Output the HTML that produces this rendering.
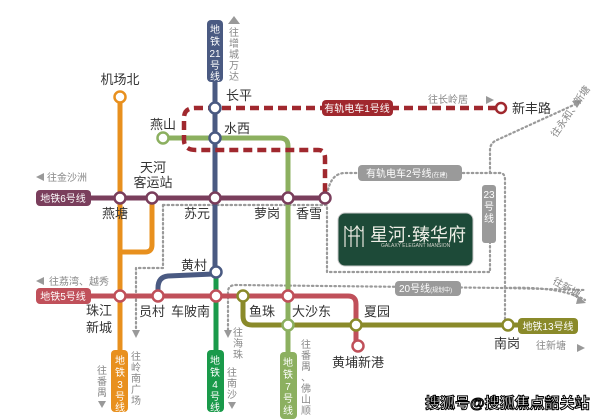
<!DOCTYPE html>
<html><head><meta charset="utf-8"><style>
html,body{margin:0;padding:0;background:#fff;}
svg{display:block;font-family:"Liberation Sans","Noto Sans CJK SC",sans-serif;}
.st{font-size:13px;fill:#333;}
.g{font-size:10px;fill:#888;}
.lb{font-size:10px;fill:#fff;}
</style></head><body>
<svg width="608" height="419" viewBox="0 0 608 419" xmlns="http://www.w3.org/2000/svg">
<rect width="608" height="419" fill="#fff"/>
<g fill="none" stroke="#9a9a9a" stroke-width="2.2" stroke-dasharray="1.5 3" stroke-linecap="round">
<path d="M328 190 Q332 173 345 173 L500 173 Q505 173 505 180 L505 325"/>
<path d="M490 173 L490 150 Q490 143 497 140 L578 103"/>
<path d="M163 205 L327 205 L327 272 L490 272 L490 185"/>
<path d="M163 205 L163 268 L136 268 L136 330"/>
<path d="M228 330 L228 292 Q228 285 236 285 L505 288 L585 290"/>
<path d="M505 288 Q560 286 585 300"/>
</g>
<polygon points="582,100 572,101 577,108" fill="#999"/>
<polygon points="586,303 578,296 576,304" fill="#999"/>
<polygon points="132,330 140,330 136,338" fill="#999"/>
<polygon points="224,330 232,330 228,338" fill="#999"/>
<path d="M215 80 L215 268" stroke="#4a5a82" stroke-width="5" fill="none"/>
<path d="M213 274 L168 276 Q158 277 158 288 L158 296" stroke="#4a5a82" stroke-width="5" fill="none"/>
<rect x="207" y="20" width="16" height="62" rx="4" fill="#4a5a82"/>
<text class="lb" x="215" y="33" text-anchor="middle">地</text><text class="lb" x="215" y="45" text-anchor="middle">铁</text><text class="lb" x="215" y="57" text-anchor="middle">21</text><text class="lb" x="215" y="69" text-anchor="middle">号</text><text class="lb" x="215" y="80" text-anchor="middle">线</text>
<path d="M216 272 L216 355" stroke="#1a9a4a" stroke-width="5" fill="none"/>
<rect x="207" y="350" width="17" height="62" rx="4" fill="#1a9a4a"/>
<text class="lb" x="215" y="364" text-anchor="middle">地</text><text class="lb" x="215" y="376" text-anchor="middle">铁</text><text class="lb" x="215" y="388" text-anchor="middle">4</text><text class="lb" x="215" y="400" text-anchor="middle">号</text><text class="lb" x="215" y="411" text-anchor="middle">线</text>
<path d="M120 97 L120 355" stroke="#e8901e" stroke-width="5" fill="none"/>
<path d="M152 198 L152 245 Q152 252 145 252 L120 252" stroke="#e8901e" stroke-width="5" fill="none"/>
<rect x="111" y="350" width="17" height="62" rx="4" fill="#e8901e"/>
<text class="lb" x="120" y="364" text-anchor="middle">地</text><text class="lb" x="120" y="376" text-anchor="middle">铁</text><text class="lb" x="120" y="388" text-anchor="middle">3</text><text class="lb" x="120" y="400" text-anchor="middle">号</text><text class="lb" x="120" y="411" text-anchor="middle">线</text>
<path d="M163 138 L280 138 Q288 138 288 146 L288 360" stroke="#8cb060" stroke-width="5" fill="none"/>
<rect x="280" y="352" width="17" height="67" rx="4" fill="#8cb060"/>
<text class="lb" x="288" y="366" text-anchor="middle">地</text><text class="lb" x="288" y="378" text-anchor="middle">铁</text><text class="lb" x="288" y="390" text-anchor="middle">7</text><text class="lb" x="288" y="402" text-anchor="middle">号</text><text class="lb" x="288" y="414" text-anchor="middle">线</text>
<path d="M88 198 L325 198" stroke="#7a3e5c" stroke-width="5" fill="none"/>
<rect x="36" y="190" width="55" height="16" rx="4" fill="#7a3e5c"/>
<text class="lb" x="63" y="202" text-anchor="middle">地铁6号线</text>
<path d="M88 296 L348 296 Q356 296 356 304 L356 342" stroke="#c0505a" stroke-width="5" fill="none"/>
<rect x="36" y="288" width="55" height="16" rx="4" fill="#c0505a"/>
<text class="lb" x="63" y="300" text-anchor="middle">地铁5号线</text>
<path d="M243 296 L243 316 Q243 325 252 325 L520 325" stroke="#8a8a2a" stroke-width="5" fill="none"/>
<rect x="518" y="318" width="60" height="16" rx="4" fill="#8a8a2a"/>
<text class="lb" x="548" y="330" text-anchor="middle">地铁13号线</text>
<g fill="none" stroke="#a0282e" stroke-width="4.5" stroke-dasharray="9 5">
<path d="M497 108 L195 108 Q184 108 184 118 L184 140 Q184 150 196 150 L318 150 Q325 150 325 158 L325 192"/>
</g>
<rect x="322" y="100" width="71" height="16" rx="4" fill="#a0282e"/>
<text class="lb" x="357" y="112" text-anchor="middle">有轨电车1号线</text>
<rect x="358" y="165" width="104" height="16" rx="4" fill="#9a9a9a"/>
<text class="lb" x="366" y="177">有轨电车2号线<tspan font-size="6">(在建)</tspan></text>
<rect x="482" y="185" width="14" height="58" rx="3" fill="#9a9a9a"/>
<text class="lb" x="489" y="198" text-anchor="middle" font-size="9">23</text><text class="lb" x="489" y="210" text-anchor="middle" font-size="9">号</text><text class="lb" x="489" y="222" text-anchor="middle" font-size="9">线</text>
<rect x="395" y="281" width="66" height="15" rx="4" fill="#9a9a9a"/>
<text class="lb" x="399" y="292">20号线<tspan font-size="6">(规划中)</tspan></text>
<rect x="338" y="213" width="135" height="53" rx="7" fill="#1d4a38" stroke="#c8c8c8"/>
<g stroke="#e8e8e0" stroke-width="1.2" fill="none">
<path d="M345 226 L345 247 M351 226 L351 247 M357 226 L357 247 M363 226 L363 247 M345 226 Q351 236 357 226 Q363 236 363 226 M348 236 L360 236"/>
</g>
<text x="370" y="241" fill="#eeeee6" font-size="18">星河·臻华府</text>
<text x="381" y="247" fill="#d0d0c8" font-size="5">GALAXY ELEGANT MANSION</text>
<g fill="#fff" stroke-width="2.5">
<circle cx="120" cy="97" r="5.5" stroke="#e8901e"/>
<circle cx="163" cy="138" r="5.5" stroke="#8cb060"/>
<circle cx="215" cy="108" r="5.5" stroke="#4a5a82"/>
<circle cx="215" cy="138" r="5.5" stroke="#4a5a82"/>
<circle cx="120" cy="198" r="5.5" stroke="#7a3e5c"/>
<circle cx="152" cy="198" r="5.5" stroke="#7a3e5c"/>
<circle cx="215" cy="198" r="5.5" stroke="#7a3e5c"/>
<circle cx="288" cy="198" r="5.5" stroke="#7a3e5c"/>
<circle cx="325" cy="198" r="5.5" stroke="#7a3e5c"/>
<circle cx="216" cy="272" r="5.5" stroke="#4a5a82"/>
<circle cx="120" cy="296" r="5.5" stroke="#c0505a"/>
<circle cx="158" cy="296" r="5.5" stroke="#c0505a"/>
<circle cx="216" cy="296" r="5.5" stroke="#c0505a"/>
<circle cx="243" cy="296" r="5.5" stroke="#8a8a2a"/>
<circle cx="288" cy="296" r="5.5" stroke="#c0505a"/>
<circle cx="288" cy="325" r="5.5" stroke="#8cb060"/>
<circle cx="356" cy="325" r="5.5" stroke="#8a8a2a"/>
<circle cx="358" cy="346" r="5.5" stroke="#c0505a"/>
<circle cx="508" cy="325" r="5.5" stroke="#8a8a2a"/>
<circle cx="501" cy="108" r="5" stroke="#a0282e"/>
</g>
<text class="st" x="120" y="84" text-anchor="middle">机场北</text>
<text class="st" x="150" y="129">燕山</text>
<text class="st" x="226" y="100">长平</text>
<text class="st" x="224" y="133">水西</text>
<text class="st" x="512" y="113">新丰路</text>
<text class="st" x="153" y="172" text-anchor="middle">天河</text>
<text class="st" x="153" y="187" text-anchor="middle">客运站</text>
<text class="st" x="102" y="218">燕塘</text>
<text class="st" x="184" y="218">苏元</text>
<text class="st" x="254" y="218">萝岗</text>
<text class="st" x="296" y="218">香雪</text>
<text class="st" x="181" y="270">黄村</text>
<text class="st" x="86" y="315">珠江</text>
<text class="st" x="86" y="332">新城</text>
<text class="st" x="139" y="316">员村</text>
<text class="st" x="171" y="316">车陂南</text>
<text class="st" x="249" y="316">鱼珠</text>
<text class="st" x="292" y="316">大沙东</text>
<text class="st" x="364" y="316">夏园</text>
<text class="st" x="332" y="367">黄埔新港</text>
<text class="st" x="494" y="348">南岗</text>
<polygon points="228,24 240,24 234,16" fill="#999"/>
<text class="g" x="234" y="36" text-anchor="middle">往</text><text class="g" x="234" y="47" text-anchor="middle">增</text><text class="g" x="234" y="58" text-anchor="middle">城</text><text class="g" x="234" y="69" text-anchor="middle">万</text><text class="g" x="234" y="80" text-anchor="middle">达</text>
<polygon points="36,177 44,173 44,181" fill="#999"/>
<text class="g" x="47" y="181">往金沙洲</text>
<polygon points="36,281 44,277 44,285" fill="#999"/>
<text class="g" x="49" y="285">往荔湾、越秀</text>
<text class="g" x="428" y="103">往长岭居</text>
<polygon points="486,96 486,104 494,100" fill="#999"/>
<text class="g" x="536" y="349">往新塘</text>
<polygon points="577,344 577,352 585,348" fill="#999"/>
<text class="g" x="102" y="374" text-anchor="middle">往</text><text class="g" x="102" y="385" text-anchor="middle">番</text><text class="g" x="102" y="396" text-anchor="middle">禺</text>
<polygon points="98,401 106,401 102,408" fill="#999"/>
<text class="g" x="136" y="360" text-anchor="middle">往</text><text class="g" x="136" y="371" text-anchor="middle">岭</text><text class="g" x="136" y="382" text-anchor="middle">南</text><text class="g" x="136" y="393" text-anchor="middle">广</text><text class="g" x="136" y="404" text-anchor="middle">场</text>
<text class="g" x="238" y="336" text-anchor="middle">往</text><text class="g" x="238" y="347" text-anchor="middle">海</text><text class="g" x="238" y="358" text-anchor="middle">珠</text>
<text class="g" x="232" y="376" text-anchor="middle">往</text><text class="g" x="232" y="387" text-anchor="middle">南</text><text class="g" x="232" y="398" text-anchor="middle">沙</text>
<polygon points="228,402 236,402 232,409" fill="#999"/>
<text class="g" x="306" y="348" text-anchor="middle">往</text><text class="g" x="306" y="359" text-anchor="middle">番</text><text class="g" x="306" y="370" text-anchor="middle">禺</text><text class="g" x="306" y="381" text-anchor="middle">、</text><text class="g" x="306" y="392" text-anchor="middle">佛</text><text class="g" x="306" y="403" text-anchor="middle">山</text><text class="g" x="306" y="414" text-anchor="middle">顺</text>
<text class="g" x="556" y="138" transform="rotate(-55 556 138)">往永和、新塘</text>
<text class="g" x="552" y="283" font-size="9" transform="rotate(30 552 283)">往新塘</text>
<text x="425" y="408" font-size="15" font-weight="bold" fill="#fff" stroke="#000" stroke-width="1">搜狐号@搜狐焦点韶关站</text>
</svg>
</body></html>
